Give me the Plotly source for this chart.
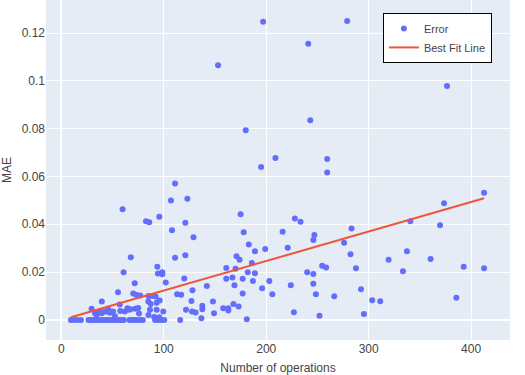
import plotly.graph_objects as go

# Number of operations (x) and MAE (y)
ops = [
    # near-zero row, small op counts
    9.3, 12.2, 15.5, 19.1, 26.5, 28.5, 30.5, 32.5, 35, 37, 40, 42, 44.5, 47, 49.5,
    52, 54.5, 57, 59.5, 61, 66.5, 68.5, 71, 73.5, 77, 79.5, 91.5, 94.5, 97.5, 100.5,
    # low cluster
    29.5, 32.8, 34.4, 37.6, 39.3, 39.5, 42.5, 44.2, 46, 47.4, 50.5, 52.3, 57, 57.5,
    62, 64.5, 66, 67.5, 70.2, 72, 73.5, 75, 77, 75.8, 84.9, 85, 87.2, 86.5, 88.8,
    92, 93, 93, 85, 90.5, 93, 95.6, 99.5, 96,
    # mid, small op counts
    55.3, 60.8, 67.8, 71.6, 93.7, 94.3, 98.5, 98.5, 101.9, 59.8, 82.6, 85.8, 95.6,
    # 105 - 260
    209, 195, 259.5, 259.5, 111, 107, 123, 175, 121, 108, 129, 228, 233.5, 178, 216,
    247, 246, 183, 199, 189, 221, 111, 121, 171, 174, 186, 161, 170, 254.6, 258.5,
    182, 189, 240, 246, 120, 161, 167, 177, 187, 203, 142, 169, 196, 224, 246,
    128, 113, 117, 177, 206, 248.5, 127, 148, 137.6, 137.6, 168, 173, 158, 163, 163,
    121.7, 127.6, 131, 149, 136.7, 116, 181, 227, 252,
    # above 260
    412.7, 373.6, 340.7, 369.7, 283.3, 276, 282.3, 337.4, 319.5, 360.5, 287.6, 333.5,
    392.8, 412.7, 292.5, 266.4, 303.5, 311.3, 385.6, 295.4,
    # high outliers
    197, 279, 241, 153, 376.5, 180, 243,
]

mae = [
    0, 0, 0, 0, 0, 0, 0, 0, 0, 0, 0, 0, 0, 0, 0,
    0, 0, 0, 0, 0, 0, 0, 0, 0, 0, 0, 0, 0, 0, 0,
    0.0047, 0.0028, 0.0021, 0.0035, 0.0028, 0.0077, 0.0035, 0.0035, 0.0042, 0.0030, 0.0035, 0.0015, 0.0064, 0.0037,
    0.0035, 0.0049, 0.0042, 0.0045, 0.0111, 0.0047, 0.0104, 0.0050, 0.0102, 0.0027, 0.0077, 0.0100, 0.0067, 0.0042, 0.0100,
    0.0098, 0.0072, 0.0042, 0.0021, 0.0012, 0.0008, 0.0011, 0.0035, 0.0081,
    0.0116, 0.0199, 0.0262, 0.0153, 0.0222, 0.0194, 0.0199, 0.0191, 0.0156, 0.0463, 0.0413, 0.0408, 0.0431,
    0.0677, 0.0640, 0.0673, 0.0617, 0.0571, 0.0499, 0.0507, 0.0442, 0.0406, 0.0375, 0.0346, 0.0424, 0.0411, 0.0367, 0.0369,
    0.0355, 0.0334, 0.0315, 0.0297, 0.0287, 0.0302, 0.0260, 0.0270, 0.0266, 0.0252, 0.0238, 0.0217, 0.0214, 0.0227, 0.0219,
    0.0199, 0.0195, 0.0199, 0.0192, 0.0173, 0.0172, 0.0177, 0.0172, 0.0163, 0.0163, 0.0142, 0.0145, 0.0132, 0.0145, 0.0151,
    0.0124, 0.0107, 0.0105, 0.0111, 0.0107, 0.0107, 0.0079, 0.0077, 0.0059, 0.0045, 0.0067, 0.0056, 0.0049, 0.0049, 0.0039,
    0.0043, 0.0035, 0.0031, 0.0028, 0.0007, 0.0, 0.0003, 0.0032, 0.0017,
    0.0532, 0.0488, 0.0413, 0.0396, 0.0382, 0.0323, 0.0275, 0.0287, 0.0252, 0.0255, 0.0216, 0.0204,
    0.0222, 0.0216, 0.0128, 0.0099, 0.0082, 0.0078, 0.0093, 0.0025,
    0.1247, 0.1250, 0.1155, 0.1065, 0.0978, 0.0793, 0.0835,
]

# best fit line
fit_slope = 0.0001234
fit_intercept = -0.0000475

fit_x = [min(ops), max(ops)]
fit_y = [fit_slope * x + fit_intercept for x in fit_x]

fig = go.Figure()
fig.add_trace(go.Scatter(x=ops, y=mae, mode='markers', name='Error',
                         marker=dict(color='#636efa', size=6)))
fig.add_trace(go.Scatter(x=fit_x, y=fit_y, mode='lines', name='Best Fit Line',
                         line=dict(color='#EF553B', width=2)))

fig.update_layout(
    width=525, height=375,
    template='plotly',
    font=dict(family='Arial', size=12, color='#444'),
    margin=dict(l=46, r=15, t=0, b=35),
    xaxis=dict(title=dict(text='Number of operations', font=dict(size=12)), range=[-15, 438],
               tickvals=[0, 100, 200, 300, 400], automargin=False),
    yaxis=dict(title=dict(text='MAE', font=dict(size=12)), range=[-0.0084, 0.1338],
               tickvals=[0, 0.02, 0.04, 0.06, 0.08, 0.1, 0.12], automargin=False),
    legend=dict(x=0.961, y=0.962, xanchor='right', yanchor='top', font=dict(size=11),
                bgcolor='white', bordercolor='black', borderwidth=1),
)

# drop the browser's default page margin so the figure sits at the window corner
fig.write_html("out.html", config={'displayModeBar': False},
               post_script="document.body.style.margin='0';")
